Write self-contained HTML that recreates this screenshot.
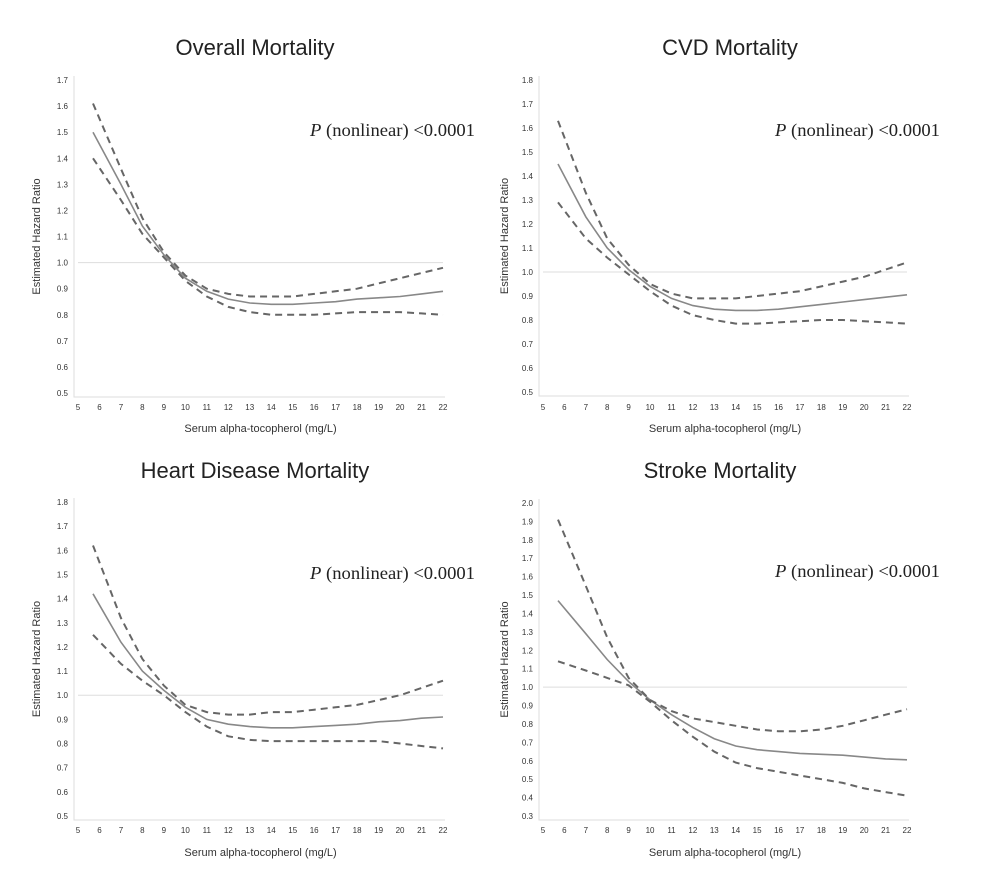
<!DOCTYPE html>
<html><head><meta charset="utf-8"><style>
body{margin:0;background:#fff;}
svg{display:block;font-family:"Liberation Sans",sans-serif;}
</style></head><body>
<svg id="fig" width="1000" height="879" viewBox="0 0 1000 879"></svg>
<script>
const xs = [5.7,7,8,9,10,11,12,13,14,15,16,17,18,19,20,21,22];
const xTicks = [5,6,7,8,9,10,11,12,13,14,15,16,17,18,19,20,21,22];
const p1Est = [1.50,1.30,1.14,1.03,0.94,0.89,0.86,0.845,0.84,0.84,0.845,0.85,0.86,0.865,0.87,0.88,0.89];
const p1Up  = [1.61,1.36,1.17,1.04,0.95,0.90,0.88,0.87,0.87,0.87,0.88,0.89,0.90,0.92,0.94,0.96,0.98];
const p1Lo  = [1.40,1.24,1.11,1.02,0.93,0.87,0.83,0.81,0.80,0.80,0.80,0.805,0.81,0.81,0.81,0.805,0.80];
const p2Est = [1.45,1.23,1.10,1.01,0.94,0.89,0.86,0.845,0.84,0.84,0.845,0.855,0.865,0.875,0.885,0.895,0.905];
const p2Up  = [1.63,1.33,1.14,1.03,0.95,0.91,0.89,0.89,0.89,0.90,0.91,0.92,0.94,0.96,0.98,1.01,1.04];
const p2Lo  = [1.29,1.14,1.06,0.99,0.92,0.86,0.82,0.80,0.785,0.785,0.79,0.795,0.80,0.80,0.795,0.79,0.785];
const p3Est = [1.42,1.22,1.10,1.02,0.95,0.90,0.88,0.87,0.865,0.865,0.87,0.875,0.88,0.89,0.895,0.905,0.91];
const p3Up  = [1.62,1.32,1.15,1.04,0.96,0.93,0.92,0.92,0.93,0.93,0.94,0.95,0.96,0.98,1.00,1.03,1.06];
const p3Lo  = [1.25,1.13,1.06,1.00,0.93,0.87,0.83,0.815,0.81,0.81,0.81,0.81,0.81,0.81,0.80,0.79,0.78];
const p4Est = [1.47,1.29,1.15,1.03,0.93,0.85,0.78,0.72,0.68,0.66,0.65,0.64,0.635,0.63,0.62,0.61,0.605];
const p4Up  = [1.91,1.55,1.27,1.05,0.93,0.87,0.83,0.81,0.79,0.77,0.76,0.76,0.77,0.79,0.82,0.85,0.88];
const p4Lo  = [1.14,1.09,1.05,1.01,0.92,0.82,0.73,0.65,0.59,0.56,0.54,0.52,0.50,0.48,0.45,0.43,0.41];
const titles = ["Overall Mortality","CVD Mortality","Heart Disease Mortality","Stroke Mortality"];

const NS="http://www.w3.org/2000/svg";
const svg=document.getElementById('fig');
function mk(tag,attrs,parent,text){const e=document.createElementNS(NS,tag);for(const k in attrs)e.setAttribute(k,attrs[k]);if(text!==undefined)e.textContent=text;(parent||svg).appendChild(e);return e;}

const panels=[
 {x0:78,x1:443,yTop:80,yBot:393,ymin:0.5,ymax:1.7,tickY:410,titleY:432,headY:55,headX:255,pX:310,pY:136,ylab:40,data:[p1Est,p1Up,p1Lo]},
 {x0:543,x1:907,yTop:80,yBot:392,ymin:0.5,ymax:1.8,tickY:410,titleY:432,headY:55,headX:730,pX:775,pY:136,ylab:508,data:[p2Est,p2Up,p2Lo]},
 {x0:78,x1:443,yTop:502,yBot:816,ymin:0.5,ymax:1.8,tickY:833,titleY:856,headY:478,headX:255,pX:310,pY:579,ylab:40,data:[p3Est,p3Up,p3Lo]},
 {x0:543,x1:907,yTop:503,yBot:816,ymin:0.3,ymax:2.0,tickY:833,titleY:856,headY:478,headX:720,pX:775,pY:577,ylab:508,data:[p4Est,p4Up,p4Lo]}
];
panels.forEach((p,i)=>{
 const g=mk('g',{});
 
 
 const X=v=>p.x0+(v-5)/(22-5)*(p.x1-p.x0);
 const Y=v=>p.yBot-(v-p.ymin)/(p.ymax-p.ymin)*(p.yBot-p.yTop);
 const t=mk('text',{x:p.headX,y:p.headY,'text-anchor':'middle','font-size':22,fill:'#222'},g,titles[i]);
 
 
 const ax=mk('path',{d:`M${p.x0-4},${p.yTop-4}V${p.yBot+4}H${p.x1+2}`,stroke:'#ddd',fill:'none','stroke-width':1},g);
 
 
 const n=Math.round((p.ymax-p.ymin)/0.1);
 for(let k=0;k<=n;k++){const v=p.ymin+k*0.1;
  const yt=mk('text',{x:p.x0-10,y:Y(v)+3,'text-anchor':'end','font-size':8,fill:'#333'},g,v.toFixed(1));
  
  }
 xTicks.forEach(v=>{
  const xt=mk('text',{x:X(v),y:p.tickY,'text-anchor':'middle','font-size':8,fill:'#333'},g,String(v));
  
  });
 const xtl=mk('text',{x:(p.x0+p.x1)/2,y:p.titleY,'text-anchor':'middle','font-size':11,fill:'#333'},g,'Serum alpha-tocopherol (mg/L)');
 
 
 const cy=(p.yTop+p.yBot)/2;
 const ytl=mk('text',{x:p.ylab,y:cy,'text-anchor':'middle','font-size':11,fill:'#333',transform:`rotate(-90 ${p.ylab} ${cy})`},g,'Estimated Hazard Ratio');
 
 
 const ref=mk('line',{x1:p.x0,x2:p.x1,y1:Y(1),y2:Y(1),stroke:'#ddd','stroke-width':1},g);
 
 
 const pt=mk('text',{x:p.pX,y:p.pY,'font-size':18,fill:'#222','font-family':'Liberation Serif,serif','textLength':165,'lengthAdjust':'spacingAndGlyphs'},g);
 mk('tspan',{'font-style':'italic'},pt,'P');
 mk('tspan',{},pt,' (nonlinear) <0.0001');
 
 
 const names=['estimate-line','upper-ci-line','lower-ci-line'];
 p.data.forEach((arr,j)=>{
  const d=arr.map((v,k)=>(k?'L':'M')+X(xs[k]).toFixed(1)+','+Y(v).toFixed(1)).join('');
  const a={d:d,fill:'none',stroke:j?'#666':'#888','stroke-width':j?2:1.6};
  if(j)a['stroke-dasharray']='7,5';
  const l=mk('path',a,g);
  
  
 });
});
</script>
</body></html>
